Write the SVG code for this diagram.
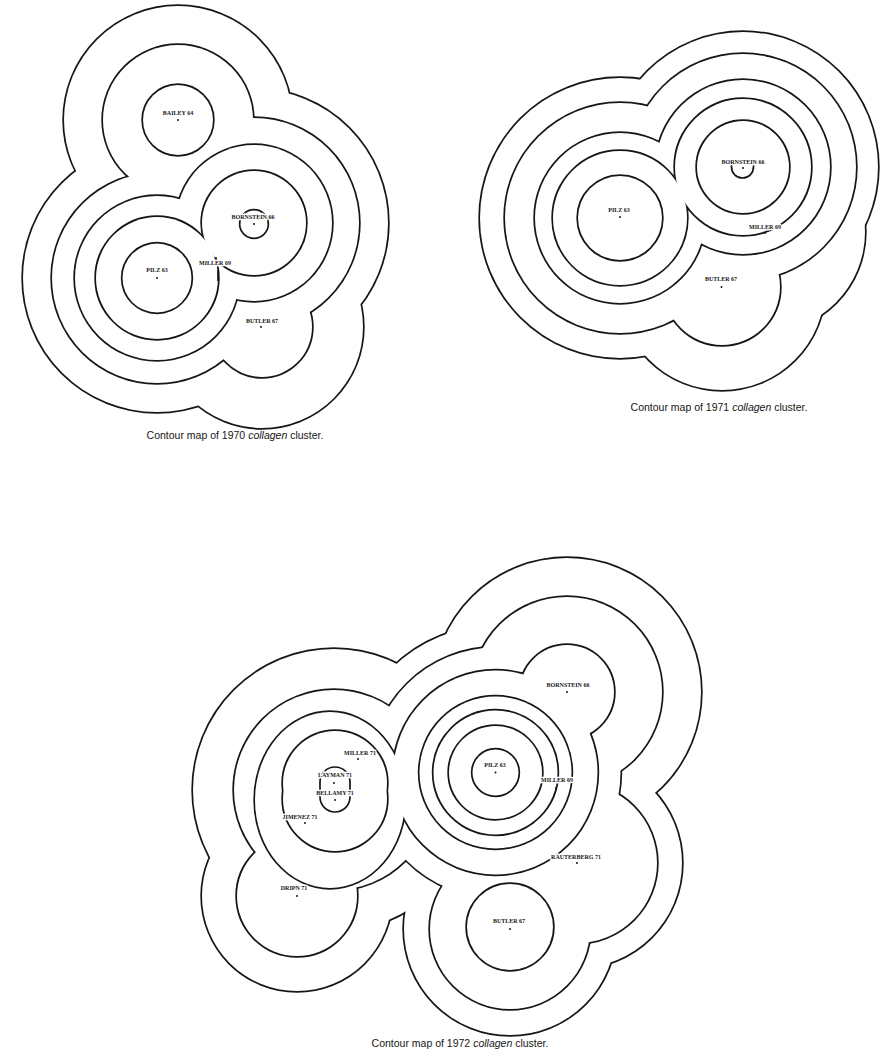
<svg xmlns="http://www.w3.org/2000/svg" xmlns:xlink="http://www.w3.org/1999/xlink" width="887" height="1054" viewBox="0 0 887 1054">
<style>
.s{fill:none;stroke:#161616;stroke-width:3.4}
.f{fill:#fff;stroke:none}
.ln{fill:none;stroke:#161616;stroke-width:1.7}
.lbl{font-family:"Liberation Serif",serif;font-weight:bold;font-size:6px;text-anchor:middle;fill:#161616;stroke:#fff;stroke-width:2.4;paint-order:stroke}
.dot{fill:#161616}
.cap{font-family:"Liberation Sans",sans-serif;font-size:10.5px;fill:#161616;text-anchor:middle}
</style>
<defs>
<g id="a1"><circle cx="178" cy="120" r="114"/><circle cx="157" cy="278" r="134"/><circle cx="254" cy="223" r="134"/><circle cx="262" cy="327" r="101"/></g>
<g id="a2"><circle cx="178" cy="120" r="75"/><circle cx="157" cy="278" r="105"/><circle cx="254" cy="223" r="105"/><circle cx="262" cy="327" r="50"/></g>
<g id="a3"><circle cx="178" cy="120" r="35"/><circle cx="157" cy="278" r="82"/><circle cx="254" cy="223" r="78"/></g>
<g id="a4"><circle cx="157" cy="278" r="61"/><circle cx="254" cy="223" r="52"/></g>
<g id="a5"><circle cx="157" cy="278" r="34.5"/><circle cx="254" cy="224" r="13.5"/></g>
<g id="b1"><circle cx="620" cy="218" r="140"/><circle cx="743" cy="167" r="135"/><circle cx="722" cy="287" r="103"/><circle cx="765" cy="232" r="100"/></g>
<g id="b2"><circle cx="620" cy="218" r="115"/><circle cx="743" cy="167" r="113"/><circle cx="722" cy="287" r="58"/></g>
<g id="b3"><circle cx="620" cy="218" r="85"/><circle cx="743" cy="167" r="87"/></g>
<g id="b4"><circle cx="620" cy="218" r="67"/><circle cx="743" cy="167" r="68"/></g>
<g id="b5"><circle cx="620" cy="218" r="42"/><circle cx="743" cy="167" r="46"/></g>
<g id="c1"><circle cx="334" cy="790" r="141"/><circle cx="495.5" cy="772.5" r="147"/><circle cx="567" cy="692" r="134"/><circle cx="510" cy="929" r="106"/><circle cx="577" cy="863" r="105"/><circle cx="297" cy="896" r="95"/></g>
<g id="c2"><circle cx="334" cy="790" r="100"/><circle cx="495.5" cy="772.5" r="125"/><circle cx="567" cy="692" r="95"/><circle cx="510" cy="929" r="80"/><circle cx="577" cy="863" r="80"/><circle cx="297" cy="896" r="60"/></g>
<g id="c3"><ellipse cx="330" cy="800" rx="75" ry="88"/><circle cx="495.5" cy="772.5" r="102"/><circle cx="567" cy="692" r="47"/><circle cx="510" cy="927" r="43"/></g>
<g id="c4"><circle cx="335" cy="783" r="52"/><circle cx="335" cy="799" r="52"/><circle cx="495.5" cy="772.5" r="76"/></g>
<g id="c5"><circle cx="495.5" cy="772.5" r="62"/></g>
<g id="c6"><circle cx="495.5" cy="772.5" r="46.5"/></g>
<g id="c7"><circle cx="495.5" cy="772.5" r="23"/></g>
</defs>
<rect width="887" height="1054" fill="#fff"/>

<g id="map-1970">
<g id="contours-1970">
<use xlink:href="#a1" class="s"/><use xlink:href="#a1" class="f"/>
<use xlink:href="#a2" class="s"/><use xlink:href="#a2" class="f"/>
<use xlink:href="#a3" class="s"/><use xlink:href="#a3" class="f"/>
<use xlink:href="#a4" class="s"/><use xlink:href="#a4" class="f"/>
<use xlink:href="#a5" class="s"/><use xlink:href="#a5" class="f"/>
<path class="ln" d="M218,270 L218,281"/>
</g>
<g id="n70-bailey"><text class="lbl" x="178" y="115">BAILEY 64</text><circle class="dot" cx="178" cy="120" r="1"/></g>
<g id="n70-bornstein"><text class="lbl" x="253" y="219">BORNSTEIN 66</text><circle class="dot" cx="254" cy="224" r="1"/></g>
<g id="n70-pilz"><text class="lbl" x="157" y="272">PILZ 63</text><circle class="dot" cx="157" cy="278" r="1"/></g>
<g id="n70-miller"><text class="lbl" x="215" y="265">MILLER 69</text><circle class="dot" cx="216" cy="258" r="1"/></g>
<g id="n70-butler"><text class="lbl" x="262" y="323">BUTLER 67</text><circle class="dot" cx="261" cy="327" r="1"/></g>
<text class="cap" x="235" y="439">Contour map of 1970 <tspan font-style="italic">collagen</tspan> cluster.</text>
</g>

<g id="map-1971">
<g id="contours-1971">
<use xlink:href="#b1" class="s"/><use xlink:href="#b1" class="f"/>
<use xlink:href="#b2" class="s"/><use xlink:href="#b2" class="f"/>
<use xlink:href="#b3" class="s"/><use xlink:href="#b3" class="f"/>
<use xlink:href="#b4" class="s"/><use xlink:href="#b4" class="f"/>
<use xlink:href="#b5" class="s"/><use xlink:href="#b5" class="f"/>
<path class="ln" d="M731.5,163 L731.5,167 A11,11 0 0 0 753.5,167 L753.5,163"/>
</g>
<g id="n71-bornstein"><text class="lbl" x="743" y="164">BORNSTEIN 66</text><circle class="dot" cx="743" cy="168" r="1"/></g>
<g id="n71-pilz"><text class="lbl" x="619" y="212">PILZ 63</text><circle class="dot" cx="620" cy="217" r="1"/></g>
<g id="n71-miller"><text class="lbl" x="765" y="229">MILLER 69</text><circle class="dot" cx="765" cy="233" r="1"/></g>
<g id="n71-butler"><text class="lbl" x="721" y="281">BUTLER 67</text><circle class="dot" cx="721.5" cy="287" r="1"/></g>
<text class="cap" x="719" y="411">Contour map of 1971 <tspan font-style="italic">collagen</tspan> cluster.</text>
</g>

<g id="map-1972">
<g id="contours-1972">
<use xlink:href="#c1" class="s"/><use xlink:href="#c1" class="f"/>
<use xlink:href="#c2" class="s"/><use xlink:href="#c2" class="f"/>
<use xlink:href="#c3" class="s"/><use xlink:href="#c3" class="f"/>
<use xlink:href="#c4" class="s"/><use xlink:href="#c4" class="f"/>
<use xlink:href="#c5" class="s"/><use xlink:href="#c5" class="f"/>
<use xlink:href="#c6" class="s"/><use xlink:href="#c6" class="f"/>
<use xlink:href="#c7" class="s"/><use xlink:href="#c7" class="f"/>
<path class="ln" d="M320,782 L320,797 A15,15 0 0 0 350,797 L350,782 A15,15 0 0 0 320,782 Z"/>
</g>
<g id="n72-bornstein"><text class="lbl" x="568" y="687">BORNSTEIN 66</text><circle class="dot" cx="567" cy="692" r="1"/></g>
<g id="n72-pilz"><text class="lbl" x="495" y="767">PILZ 63</text><circle class="dot" cx="495.5" cy="772.5" r="1"/></g>
<g id="n72-miller69"><text class="lbl" x="557" y="782">MILLER 69</text><circle class="dot" cx="556" cy="788" r="1"/></g>
<g id="n72-miller71"><text class="lbl" x="360" y="755">MILLER 71</text><circle class="dot" cx="358" cy="759" r="1"/></g>
<g id="n72-layman"><text class="lbl" x="335" y="777">LAYMAN 71</text><circle class="dot" cx="334" cy="783" r="1"/></g>
<g id="n72-bellamy"><text class="lbl" x="335" y="795">BELLAMY 71</text><circle class="dot" cx="335" cy="800" r="1"/></g>
<g id="n72-jimenez"><text class="lbl" x="300" y="819">JIMENEZ 71</text><circle class="dot" cx="305" cy="823" r="1"/></g>
<g id="n72-dripn"><text class="lbl" x="294" y="890">DRIPN 71</text><circle class="dot" cx="297" cy="896" r="1"/></g>
<g id="n72-rauterberg"><text class="lbl" x="576" y="859">RAUTERBERG 71</text><circle class="dot" cx="577" cy="863" r="1"/></g>
<g id="n72-butler"><text class="lbl" x="509" y="923">BUTLER 67</text><circle class="dot" cx="510" cy="929" r="1"/></g>
<text class="cap" x="460" y="1047">Contour map of 1972 <tspan font-style="italic">collagen</tspan> cluster.</text>
</g>
</svg>
